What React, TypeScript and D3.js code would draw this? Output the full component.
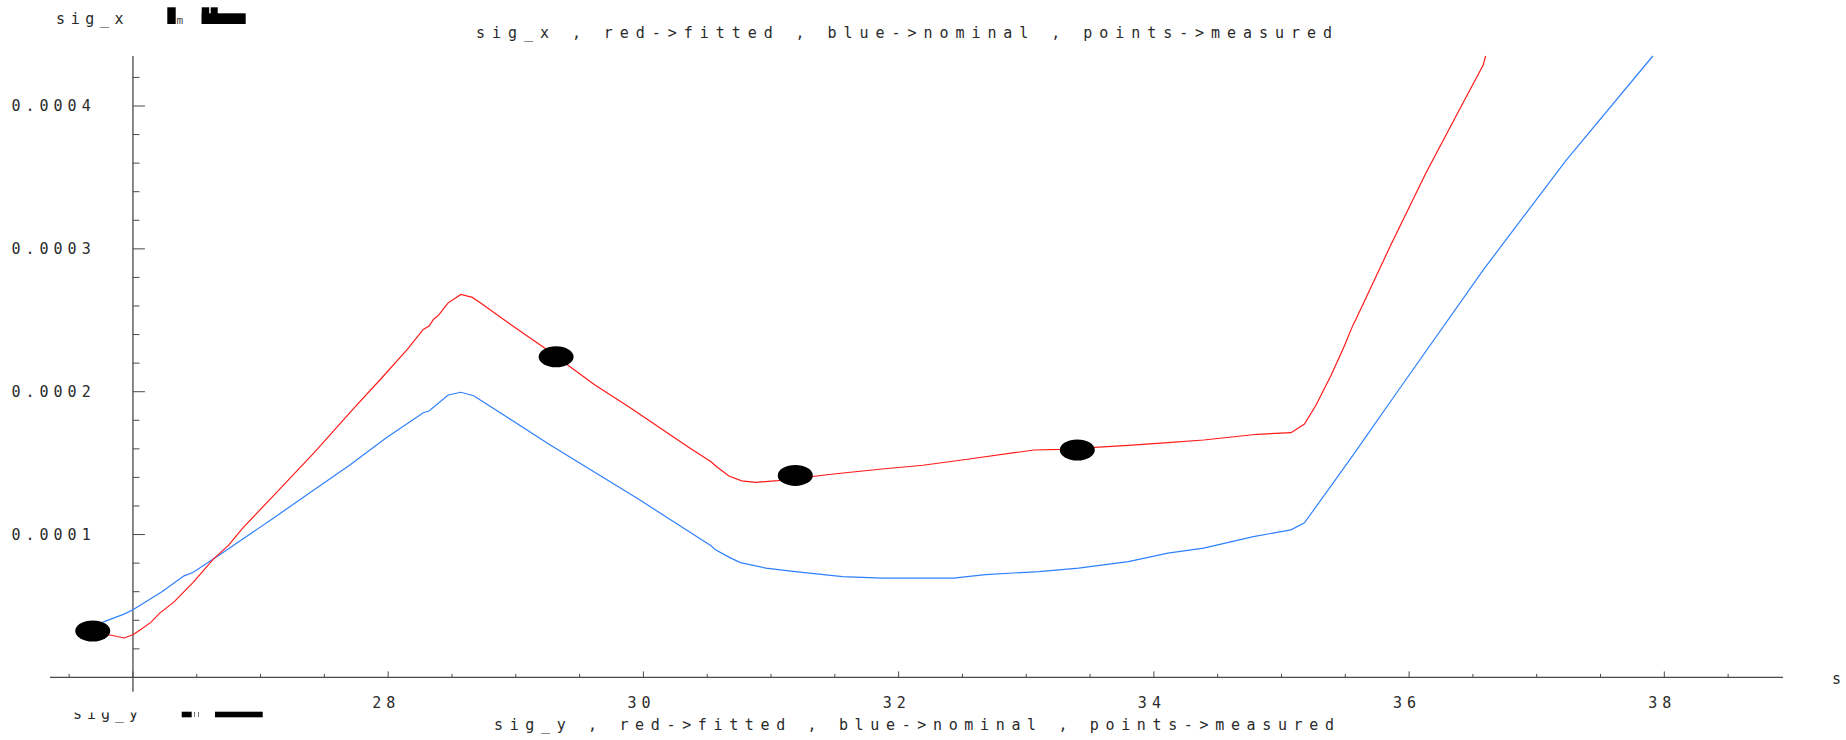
import React from "react";
import * as d3 from "d3";

// Arc length s along the lattice and beam size sig_x (m)
const fittedS = [
  25.69, 25.83, 25.93, 26.0, 26.05, 26.14, 26.21, 26.32, 26.47, 26.63, 26.75, 26.86,
  27.1, 27.42, 27.73, 27.94, 28.15, 28.275, 28.32, 28.355, 28.4, 28.47, 28.57, 28.66,
  28.73, 28.96, 29.22, 29.62, 29.885, 30.36, 30.53, 30.567, 30.67, 30.77, 30.88, 31.05,
  31.49, 31.87, 32.19, 32.54, 33.06, 33.27, 33.8, 34.11, 34.39, 34.81, 35.075, 35.18,
  35.27, 35.39, 35.49, 35.56, 35.59, 35.85, 36.13, 36.42, 36.58, 36.6,
];
const fittedSig = [
  3.1e-5, 2.95e-5, 2.76e-5, 2.99e-5, 3.29e-5, 3.85e-5, 4.5e-5, 5.27e-5, 6.64e-5, 8.28e-5,
  9.26e-5, 1.045e-4, 1.271e-4, 1.573e-4, 1.884e-4, 2.087e-4, 2.297e-4, 2.436e-4, 2.459e-4,
  2.506e-4, 2.541e-4, 2.622e-4, 2.681e-4, 2.66e-4, 2.618e-4, 2.471e-4, 2.31e-4, 2.047e-4,
  1.895e-4, 1.608e-4, 1.51e-4, 1.48e-4, 1.41e-4, 1.376e-4, 1.366e-4, 1.378e-4, 1.424e-4,
  1.459e-4, 1.485e-4, 1.527e-4, 1.592e-4, 1.597e-4, 1.625e-4, 1.643e-4, 1.662e-4, 1.702e-4,
  1.713e-4, 1.774e-4, 1.905e-4, 2.117e-4, 2.315e-4, 2.466e-4, 2.52e-4, 3.014e-4, 3.527e-4,
  4.017e-4, 4.285e-4, 4.35e-4,
];

const nominalS = [
  25.69, 25.76, 25.93, 26.0, 26.23, 26.4, 26.47, 26.68, 27.1, 27.42, 27.7, 27.98, 28.275,
  28.32, 28.47, 28.57, 28.67, 29.27, 29.97, 30.53, 30.565, 30.67, 30.76, 30.96, 31.19,
  31.56, 31.87, 32.43, 32.68, 33.1, 33.41, 33.8, 34.11, 34.39, 34.78, 35.075, 35.18, 35.48,
  35.58, 35.9, 36.58, 37.23, 37.91,
];
const nominalSig = [
  3.6e-5, 3.85e-5, 4.43e-5, 4.73e-5, 6.01e-5, 7.11e-5, 7.34e-5, 8.58e-5, 1.115e-4, 1.313e-4,
  1.487e-4, 1.674e-4, 1.853e-4, 1.865e-4, 1.977e-4, 1.996e-4, 1.972e-4, 1.627e-4, 1.243e-4,
  9.21e-5, 8.93e-5, 8.42e-5, 8.04e-5, 7.65e-5, 7.41e-5, 7.06e-5, 6.95e-5, 6.95e-5, 7.2e-5,
  7.41e-5, 7.65e-5, 8.11e-5, 8.7e-5, 9.05e-5, 9.86e-5, 1.033e-4, 1.082e-4, 1.455e-4,
  1.58e-4, 1.989e-4, 2.851e-4, 3.62e-4, 4.35e-4,
];

const measuredS = [25.685, 29.316, 31.19, 33.4];
const measuredSig = [3.25e-5, 2.244e-4, 1.414e-4, 1.592e-4];

const xMajorTicks = [26, 28, 30, 32, 34, 36, 38];
const xTickLabels = ["28", "30", "32", "34", "36", "38"];
const yTickValues = [1e-4, 2e-4, 3e-4, 4e-4];
const yTickLabels = ["0.0001", "0.0002", "0.0003", "0.0004"];

const titleTop = "sig_x ,  red->fitted ,  blue->nominal ,  points->measured";
const titleBottom = "sig_y ,  red->fitted ,  blue->nominal ,  points->measured";

const W = 1846;
const H = 740;
const FONT = "'DejaVu Sans Mono', 'Liberation Mono', monospace";
const AXIS = "#4a4a4a";
const TXT = "#2a2a2a";
const FS = 15;
const LS = 5;

export default function App() {
  const x = d3.scaleLinear().domain([25.35, 38.93]).range([50, 1783]);
  const y = d3.scaleLinear().domain([-1e-5, 4.35e-4]).range([691.7, 56]);

  const fitted = fittedS.map((s, i) => [s, fittedSig[i]] as [number, number]);
  const nominal = nominalS.map((s, i) => [s, nominalSig[i]] as [number, number]);
  const line = d3
    .line<[number, number]>()
    .x((d) => x(d[0]))
    .y((d) => y(d[1]));

  const x0 = x(26);
  const yAxisPos = y(0);

  const xMinor = d3.range(25.5, 38.6, 0.5).filter((v) => Math.abs(v - Math.round(v / 2) * 2) > 1e-6);
  const yMinor = d3.range(0, 4.21e-4, 2e-5).filter((v) => Math.abs(v / 1e-4 - Math.round(v / 1e-4)) > 1e-6);

  return (
    <div style={{ position: "absolute", left: 0, top: 0, width: W, height: H, background: "#fff" }}>
      <svg width={W} height={H} style={{ display: "block" }}>
        <defs>
          <clipPath id="sigyClip">
            <rect x={0} y={712.5} width={400} height={28} />
          </clipPath>
        </defs>
        <rect width={W} height={H} fill="#fff" />

        {/* top-left header label with its marker glyphs */}
        <text x={56} y={24} fontFamily={FONT} fontSize={FS} letterSpacing={LS + 0.6} fill={TXT}>
          sig_x
        </text>
        <rect x={167.3} y={7.3} width={8.4} height={16.7} fill="#000" />
        <text x={176.5} y={24} fontFamily={FONT} fontSize={11} fill="#444">
          m
        </text>
        <rect x={201.7} y={7.3} width={7.5} height={16.7} fill="#000" />
        <rect x={210.7} y={7.3} width={7} height={16.7} fill="#000" />
        <rect x={201.7} y={13.3} width={44} height={10.7} fill="#000" />

        {/* titles */}
        <text
          x={476}
          y={38}
          fontFamily={FONT}
          fontSize={FS}
          fill={TXT}
          textLength={856}
          lengthAdjust="spacing"
        >
          {titleTop}
        </text>
        <text
          x={494}
          y={730}
          fontFamily={FONT}
          fontSize={FS}
          fill={TXT}
          textLength={840}
          lengthAdjust="spacing"
        >
          {titleBottom}
        </text>

        {/* bottom-left header, partly hidden */}
        <g clipPath="url(#sigyClip)">
          <text x={73} y={719} fontFamily={FONT} fontSize={FS} letterSpacing={LS} fill={TXT}>
            sig_y
          </text>
        </g>
        <rect x={181.7} y={711.7} width={10} height={5.6} fill="#000" />
        <line x1={194.5} x2={194.5} y1={712} y2={717} stroke="#777" strokeWidth={1} />
        <line x1={198.5} x2={198.5} y1={712} y2={717} stroke="#777" strokeWidth={1} />
        <rect x={215} y={711.7} width={47.7} height={5.6} fill="#000" />

        {/* axes */}
        <line x1={50} x2={1783} y1={yAxisPos} y2={yAxisPos} stroke={AXIS} strokeWidth={1.3} />
        <line x1={x0} x2={x0} y1={56} y2={691.7} stroke={AXIS} strokeWidth={1.3} />

        {xMajorTicks.map((t) => (
          <line key={"xM" + t} x1={x(t)} x2={x(t)} y1={yAxisPos} y2={yAxisPos - 6} stroke={AXIS} strokeWidth={1} />
        ))}
        {xMinor.map((t) => (
          <line key={"xm" + t} x1={x(t)} x2={x(t)} y1={yAxisPos} y2={yAxisPos - 3.5} stroke={AXIS} strokeWidth={1} />
        ))}
        {xTickLabels.map((lab) => (
          <text
            key={"xl" + lab}
            x={x(+lab) - 16}
            y={707.7}
            fontFamily={FONT}
            fontSize={FS}
            letterSpacing={LS}
            fill={TXT}
          >
            {lab}
          </text>
        ))}
        <text x={1832} y={684} fontFamily={FONT} fontSize={FS} fill={TXT}>
          s
        </text>

        {yTickValues.map((t) => (
          <line key={"yM" + t} x1={x0} x2={x0 + 12} y1={y(t)} y2={y(t)} stroke={AXIS} strokeWidth={1} />
        ))}
        {yMinor.map((t) => (
          <line key={"ym" + t} x1={x0} x2={x0 + 6.5} y1={y(t)} y2={y(t)} stroke={AXIS} strokeWidth={1} />
        ))}
        {yTickLabels.map((lab, i) => (
          <text
            key={"yl" + lab}
            x={11.5}
            y={y(yTickValues[i]) + 5.5}
            fontFamily={FONT}
            fontSize={FS}
            letterSpacing={LS}
            fill={TXT}
          >
            {lab}
          </text>
        ))}

        {/* curves */}
        <path d={line(nominal) || ""} fill="none" stroke="#2f80ff" strokeWidth={1.2} />
        <path d={line(fitted) || ""} fill="none" stroke="#ff1a1a" strokeWidth={1.2} />

        {/* measured points */}
        {measuredS.map((s, i) => (
          <ellipse key={"pt" + i} cx={x(s)} cy={y(measuredSig[i])} rx={17.5} ry={10.5} fill="#000" />
        ))}
      </svg>
    </div>
  );
}
